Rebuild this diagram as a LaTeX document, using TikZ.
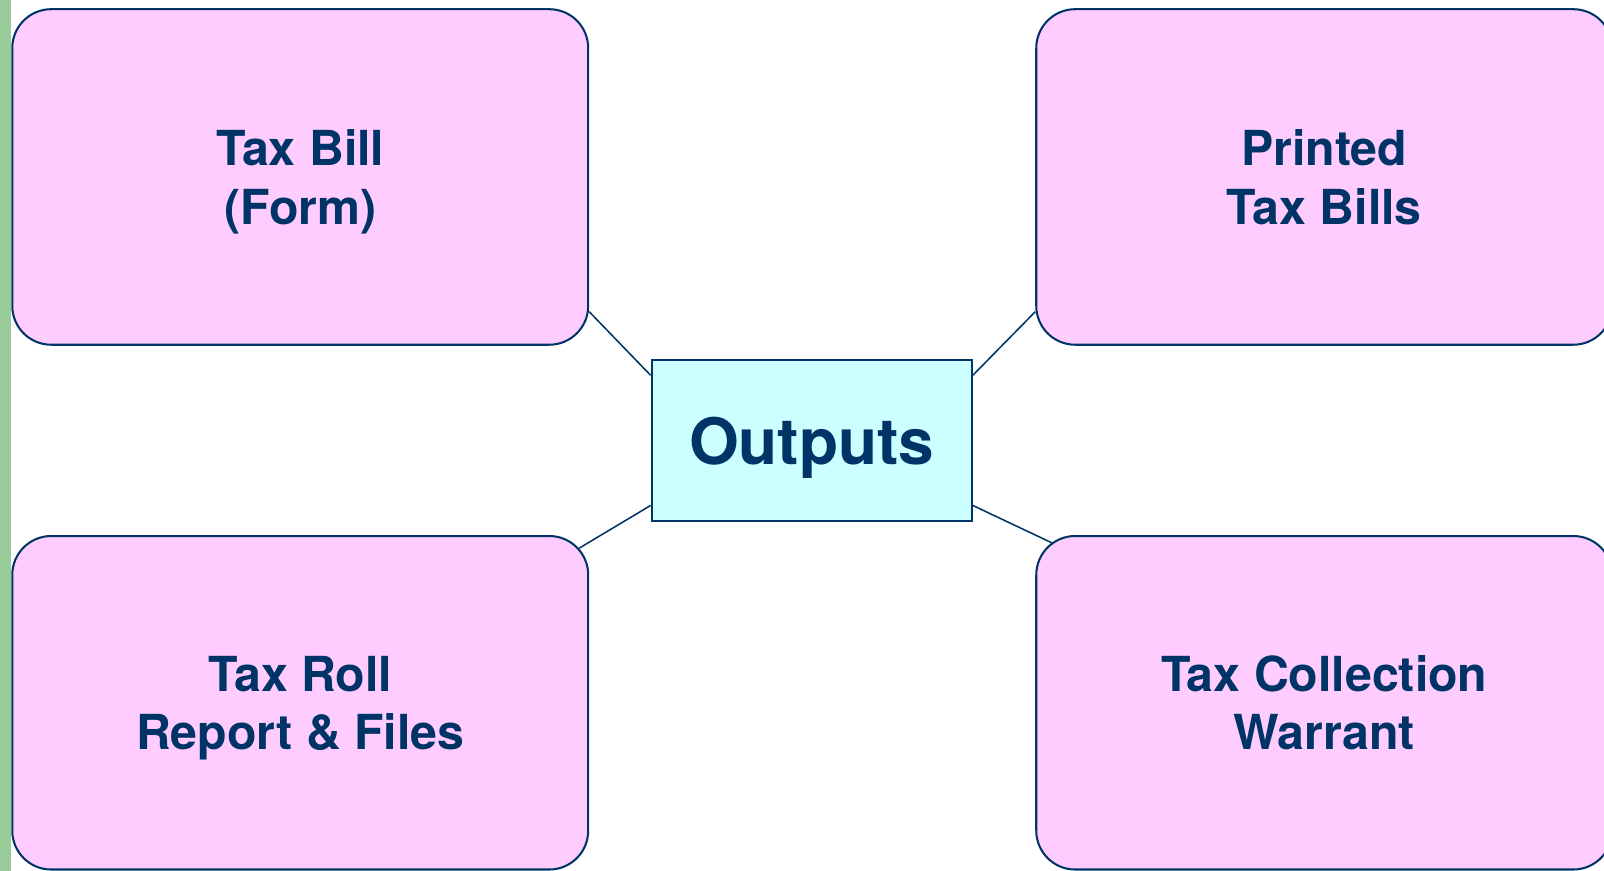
\documentclass[tikz,border=0pt]{standalone}
\usepackage{fontspec}
\setmainfont{TeX Gyre Heros}
\usetikzlibrary{calc}
\definecolor{OutNavy}{RGB}{0,51,102}
\definecolor{OutPink}{RGB}{255,204,255}
\definecolor{OutCyan}{RGB}{204,255,255}
\definecolor{OutGreen}{RGB}{153,204,153}

\begin{document}
\begin{tikzpicture}[x=0.5pt, y=0.5pt]
          \tikzset{
            item/.style={rounded corners=19pt, draw=OutNavy, line width=1pt, fill=OutPink,
              text=OutNavy, align=center, minimum width=281.5pt, text depth=0pt,
              font=\fontsize{23.6}{28.5}\selectfont\bfseries},
            hub/.style={draw=OutNavy, line width=1pt, fill=OutCyan, text=OutNavy, text depth=0pt,
              font=\fontsize{31.3}{36}\selectfont\bfseries},
            link/.style={draw=OutNavy, line width=0.75pt}
          }
          \useasboundingbox (0,0) rectangle (1568,851);
          \clip (0,0) rectangle (1568,851);
          \fill[OutGreen] (0,0) rectangle (11,851);
          \node[item, minimum height=164pt] (bill) at (293.5,678) {Tax Bill\\(Form)};
          \node[item, minimum height=164pt] (printed) at (1294.5,678) {Printed\\Tax Bills};
          \node[item, minimum height=163pt] (roll) at (293.5,164) {Tax Roll\\Report \& Files};
          \node[item, minimum height=163pt] (warrant) at (1294.5,164) {Tax Collection\\Warrant};
          \node[hub, minimum width=156.5pt, minimum height=78.5pt] (out) at (793.5,420.5) {Outputs};
          \draw[link] (out.158) -- (bill.-25);
          \draw[link] (out.22) -- (printed.205);
          \draw[link] (out.202) -- ($(roll.north east)+(-10,-13)$);
          \draw[link] (out.-22) -- ($(warrant.north west)+(17,-8)$);
        \end{tikzpicture}
\end{document}
